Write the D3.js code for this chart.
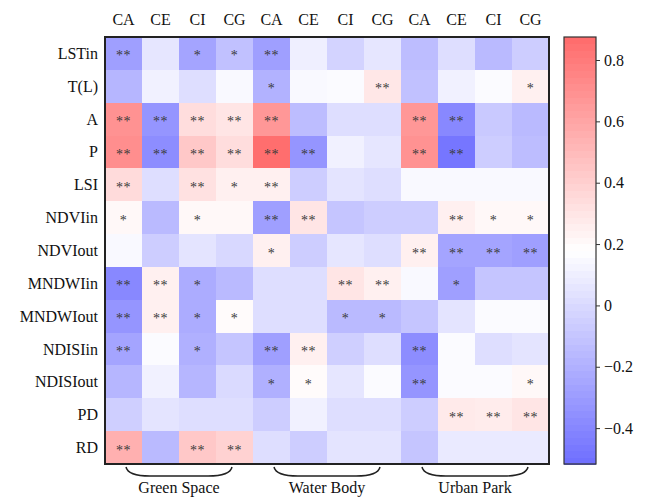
<!DOCTYPE html>
<html><head><meta charset="utf-8">
<script src="https://cdn.jsdelivr.net/npm/d3@7"></script>
<style>
html,body{margin:0;padding:0;background:#fff;}
svg{display:block;}
text{font-family:"Liberation Serif","Times New Roman",serif;fill:#111;}
</style></head><body>
<svg id="chart" width="648" height="497"></svg>
<script>
const rows = ["LSTin","T(L)","A","P","LSI","NDVIin","NDVIout","MNDWIin","MNDWIout","NDISIin","NDISIout","PD","RD"];
const metrics = ["CA","CE","CI","CG"];
const groups = ["Green Space","Water Body","Urban Park"];

const greenSpace = [
  [-0.28, 0.06,-0.26,-0.12],
  [-0.17, 0.11, 0.02, 0.15],
  [ 0.69,-0.33, 0.34, 0.30],
  [ 0.71,-0.37, 0.44, 0.34],
  [ 0.35, 0.02, 0.32, 0.25],
  [ 0.21,-0.15, 0.21, 0.21],
  [ 0.15,-0.06, 0.05,-0.01],
  [-0.39, 0.25,-0.22,-0.15],
  [-0.33, 0.25,-0.22, 0.20],
  [-0.26, 0.16,-0.20,-0.10],
  [-0.17, 0.11,-0.17, 0.00],
  [-0.05, 0.05, 0.02, 0.02],
  [ 0.55,-0.15, 0.44, 0.39]
];
const waterBody = [
  [-0.28, 0.10,-0.03, 0.06],
  [-0.19, 0.15, 0.16, 0.29],
  [ 0.67,-0.14, 0.02, 0.02],
  [ 0.86,-0.33, 0.11, 0.06],
  [ 0.25,-0.06, 0.05, 0.02],
  [-0.28, 0.30,-0.10,-0.06],
  [ 0.25,-0.06, 0.06, 0.02],
  [ 0.02, 0.02, 0.30, 0.25],
  [ 0.02, 0.02,-0.15,-0.15],
  [-0.28, 0.25,-0.05, 0.02],
  [-0.20, 0.20, 0.06, 0.16],
  [-0.06, 0.11, 0.02, 0.02],
  [ 0.02,-0.06, 0.05, 0.05]
];
const urbanPark = [
  [-0.14, 0.02,-0.15,-0.06],
  [-0.12, 0.11, 0.16, 0.25],
  [ 0.67,-0.39,-0.08,-0.15],
  [ 0.69,-0.48,-0.06,-0.14],
  [ 0.15, 0.15, 0.15, 0.15],
  [-0.06, 0.25, 0.21, 0.21],
  [ 0.25,-0.26,-0.26,-0.28],
  [ 0.15,-0.28,-0.10,-0.10],
  [-0.10, 0.05, 0.16, 0.16],
  [-0.37, 0.16, 0.02, 0.05],
  [-0.33, 0.16, 0.16, 0.21],
  [-0.06, 0.28, 0.27, 0.30],
  [-0.10, 0.08, 0.08, 0.08]
];
const greenStars = [
  ["**","","*","*"],["","","",""],["**","**","**","**"],["**","**","**","**"],
  ["**","","**","*"],["*","","*",""],["","","",""],["**","**","*",""],
  ["**","**","*","*"],["**","","*",""],["","","",""],["","","",""],["**","","**","**"]
];
const waterStars = [
  ["**","","",""],["*","","","**"],["**","","",""],["**","**","",""],
  ["**","","",""],["**","**","",""],["*","","",""],["","","**","**"],
  ["","","*","*"],["**","**","",""],["*","*","",""],["","","",""],["","","",""]
];
const parkStars = [
  ["","","",""],["","","","*"],["**","**","",""],["**","**","",""],
  ["","","",""],["","**","*","*"],["**","**","**","**"],["","*","",""],
  ["","","",""],["**","","",""],["**","","","*"],["","**","**","**"],["","","",""]
];
const colorTicks = [-0.4,-0.2,0,0.2,0.4,0.6,0.8];
const colorMin = -0.517, colorMax = 0.875;

const groupValues = [greenSpace, waterBody, urbanPark];
const groupStars = [greenStars, waterStars, parkStars];

const svg = d3.select("#chart");
const L = 105, R = 549, T = 37, B = 464;

const colKeys = [];
groups.forEach((g,gi)=>metrics.forEach((m,mi)=>colKeys.push(gi+"-"+mi)));
const x = d3.scaleBand().domain(colKeys).range([L,R]);
const y = d3.scaleBand().domain(rows).range([T,B]);
const mid = (colorMin+colorMax)/2;
const color = d3.scaleLinear().domain([colorMin,mid,colorMax])
  .range(["#6e6eff","#ffffff","#ff6b6b"]).clamp(true);

const cells = [];
groups.forEach((g,gi)=>{
  rows.forEach((r,ri)=>{
    metrics.forEach((m,mi)=>{
      cells.push({col:gi+"-"+mi,row:r,v:groupValues[gi][ri][mi],s:groupStars[gi][ri][mi]});
    });
  });
});

svg.append("g").selectAll("rect").data(cells).join("rect")
  .attr("x",d=>x(d.col)).attr("y",d=>y(d.row))
  .attr("width",x.bandwidth()+0.5).attr("height",y.bandwidth()+0.5)
  .attr("fill",d=>color(d.v)).attr("shape-rendering","crispEdges");

svg.append("g").selectAll("text").data(cells.filter(d=>d.s)).join("text")
  .attr("x",d=>x(d.col)+x.bandwidth()/2).attr("y",d=>y(d.row)+y.bandwidth()/2+7)
  .attr("text-anchor","middle")
  .style("font-family","'Liberation Serif',serif").style("font-size","14px")
  .style("fill","#3a3a3a").style("letter-spacing","0.5px")
  .text(d=>d.s);

svg.append("rect").attr("x",L).attr("y",T).attr("width",R-L).attr("height",B-T)
  .attr("fill","none").attr("stroke","#222").attr("stroke-width",2);

// top column labels
svg.append("g").selectAll("text").data(colKeys).join("text")
  .attr("x",d=>x(d)+x.bandwidth()/2).attr("y",25)
  .attr("text-anchor","middle").style("font-size","16px")
  .text(d=>metrics[+d.split("-")[1]]);

// row labels
svg.append("g").selectAll("text").data(rows).join("text")
  .attr("x",98).attr("y",d=>y(d)+y.bandwidth()/2+5.5)
  .attr("text-anchor","end").style("font-size","16px")
  .text(d=>d);

// group braces and labels
groups.forEach((g,gi)=>{
  const cx = (x(gi+"-0") + x(gi+"-3") + x.bandwidth())/2;
  const x1 = cx-53, x2 = cx+53, yt = 467, yb = 476;
  svg.append("path")
    .attr("d",`M${x1},${yt} Q${x1+2},${yb} ${x1+24},${yb} L${x2-24},${yb} Q${x2-2},${yb} ${x2},${yt}`)
    .attr("fill","none").attr("stroke","#222").attr("stroke-width",1.5);
  svg.append("text").attr("x",cx).attr("y",493).attr("text-anchor","middle")
    .style("font-size","16px").text(g);
});

// colorbar
const cbL = 564, cbR = 596;
const cy = d3.scaleLinear().domain([colorMin,colorMax]).range([B,T]);
const nBands = 64;
const bands = d3.range(nBands).map(i=>colorMin + (i+0.5)*(colorMax-colorMin)/nBands);
const bh = (B-T)/nBands;
svg.append("g").selectAll("rect").data(bands).join("rect")
  .attr("x",cbL).attr("width",cbR-cbL)
  .attr("y",(d,i)=>B-(i+1)*bh).attr("height",bh+0.6)
  .attr("fill",d=>color(d)).attr("shape-rendering","crispEdges");
svg.append("rect").attr("x",cbL).attr("y",T).attr("width",cbR-cbL).attr("height",B-T)
  .attr("fill","none").attr("stroke","#333").attr("stroke-width",1.2);
const cAxis = svg.append("g").attr("transform",`translate(${cbR},0)`)
  .call(d3.axisRight(cy).tickValues(colorTicks).tickSize(4).tickPadding(4)
    .tickFormat(v=>v===0?"0":d3.format(".1f")(v)));
cAxis.select(".domain").remove();
cAxis.selectAll("line").attr("stroke","#333");
cAxis.selectAll("text").style("font-size","16px").style("font-family","'Liberation Serif',serif").attr("fill","#111");
</script>
</body></html>
